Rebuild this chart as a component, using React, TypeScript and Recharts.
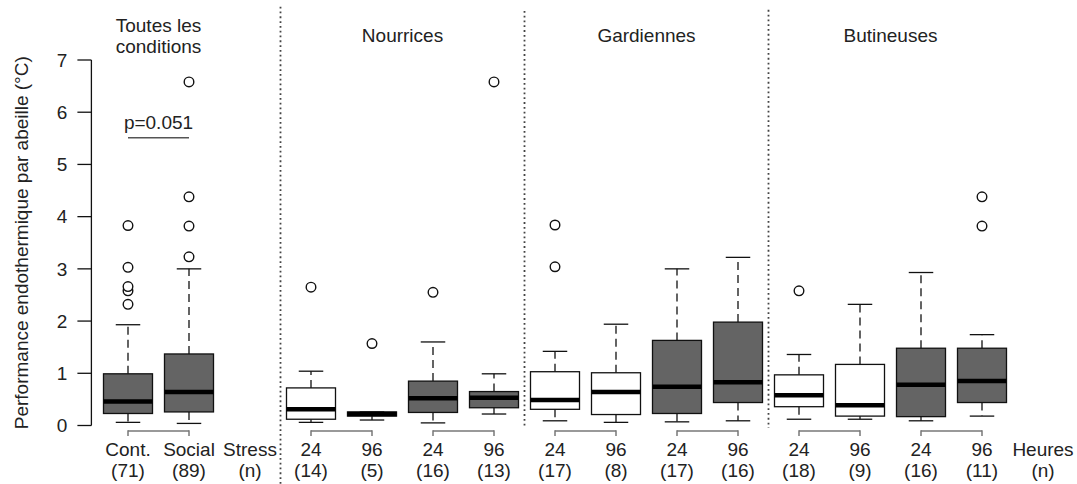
import React from "react";
import { ComposedChart, Bar, Scatter, XAxis, YAxis, ReferenceLine } from "recharts";

// one box per slot; slot 3 is the gap holding the "Stress (n)" label
const boxSlots = [1, 2, 4, 5, 6, 7, 8, 9, 10, 11, 12, 13, 14, 15];
const boxFilled = [true, true, false, false, true, true, false, false, true, true, false, false, true, true];
const whiskerLow = [0.06, 0.04, 0.06, 0.105, 0.05, 0.22, 0.09, 0.06, 0.07, 0.09, 0.12, 0.12, 0.09, 0.18];
const quartile1 = [0.23, 0.26, 0.12, 0.18, 0.25, 0.34, 0.31, 0.21, 0.23, 0.44, 0.36, 0.18, 0.17, 0.44];
const medians = [0.46, 0.64, 0.31, 0.22, 0.52, 0.53, 0.49, 0.64, 0.74, 0.83, 0.58, 0.39, 0.78, 0.85];
const quartile3 = [0.99, 1.37, 0.72, 0.26, 0.85, 0.65, 1.03, 1.01, 1.63, 1.98, 0.97, 1.17, 1.48, 1.48];
const whiskerHigh = [1.93, 3.0, 1.04, 0.26, 1.6, 0.99, 1.42, 1.94, 3.0, 3.22, 1.36, 2.32, 2.93, 1.74];

const outlierSlots = [1, 1, 1, 1, 1, 2, 2, 2, 2, 4, 5, 6, 7, 8, 8, 12, 15, 15];
const outlierValues = [2.32, 2.58, 2.66, 3.03, 3.83, 3.23, 3.82, 4.38, 6.58, 2.65, 1.57, 2.55, 6.58, 3.04, 3.84, 2.58, 3.82, 4.38];

const tickSlots = [1, 2, 3, 4, 5, 6, 7, 8, 9, 10, 11, 12, 13, 14, 15, 16];
const tickLabels = ["Cont.", "Social", "Stress", "24", "96", "24", "96", "24", "96", "24", "96", "24", "96", "24", "96", "Heures"];
const tickCounts = ["(71)", "(89)", "(n)", "(14)", "(5)", "(16)", "(13)", "(17)", "(8)", "(17)", "(16)", "(18)", "(9)", "(16)", "(11)", "(n)"];

const panelCenters = [1.5, 5.5, 9.5, 13.5];
const panelTitles = [["Toutes les", "conditions"], ["Nourrices"], ["Gardiennes"], ["Butineuses"]];

const separators = [3.5, 7.5, 11.5];
const separatorTop = [8.02, 7.94, 7.96];
const separatorBottom = [-1.12, -0.05, -0.05];
const pairs = [[1, 2], [4, 5], [6, 7], [8, 9], [10, 11], [12, 13], [14, 15]];

const yTicks = [0, 1, 2, 3, 4, 5, 6, 7];

const boxData = boxSlots.map((slot, i) => ({
  slot,
  filled: boxFilled[i],
  lo: whiskerLow[i],
  q1: quartile1[i],
  med: medians[i],
  q3: quartile3[i],
  hi: whiskerHigh[i],
}));

const outlierData = outlierSlots.map((slot, i) => ({ slot, value: outlierValues[i] }));

const FONT = "'Liberation Sans', Arial, Helvetica, sans-serif";
const TEXT = "#222";

const BoxShape = (props: any) => {
  const { x, y, width, height, payload } = props;
  const { lo, q1, med, q3, hi, filled } = payload;
  // the bar spans lo..hi, so map the other stats inside it
  const py = (v: number) => y + (height * (hi - v)) / (hi - lo);
  const cx = x + width / 2;
  const cap = width / 4;
  return (
    <g>
      <line x1={cx} x2={cx} y1={py(q3)} y2={py(hi)} stroke="#111" strokeWidth={1.3} strokeDasharray="8 5" />
      <line x1={cx} x2={cx} y1={py(q1)} y2={py(lo)} stroke="#111" strokeWidth={1.3} strokeDasharray="8 5" />
      <line x1={cx - cap} x2={cx + cap} y1={py(hi)} y2={py(hi)} stroke="#111" strokeWidth={1.3} />
      <line x1={cx - cap} x2={cx + cap} y1={py(lo)} y2={py(lo)} stroke="#111" strokeWidth={1.3} />
      <rect
        x={x}
        y={py(q3)}
        width={width}
        height={py(q1) - py(q3)}
        fill={filled ? "#646464" : "#ffffff"}
        stroke="#111"
        strokeWidth={1.3}
      />
      <line x1={x} x2={x + width} y1={py(med)} y2={py(med)} stroke="#000" strokeWidth={4.5} />
    </g>
  );
};

const OutlierShape = (props: any) => (
  <circle cx={props.cx} cy={props.cy} r={4.8} fill="#fff" stroke="#111" strokeWidth={1.4} />
);

const BottomTick = (props: any) => {
  const { x, y, payload } = props;
  const i = tickSlots.indexOf(payload.value);
  return (
    <g fontFamily={FONT} fontSize={19} fill={TEXT}>
      <text x={x} y={y + 30.5} textAnchor="middle">{tickLabels[i]}</text>
      <text x={x} y={y + 51.5} textAnchor="middle">{tickCounts[i]}</text>
    </g>
  );
};

const TopTick = (props: any) => {
  const { x, y, payload } = props;
  const lines = panelTitles[panelCenters.indexOf(payload.value)] || [];
  const last = lines.length > 1 ? y - 7 : y - 18;
  return (
    <g fontFamily={FONT} fontSize={19} fill={TEXT}>
      {lines.map((t, k) => (
        <text key={k} x={x} y={last - (lines.length - 1 - k) * 21} textAnchor="middle">{t}</text>
      ))}
    </g>
  );
};

const YTitle = (props: any) => {
  const vb = props.viewBox || { x: 0, y: 60, height: 365.5 };
  const cx = vb.x + 21;
  const cy = vb.y + vb.height / 2;
  return (
    <text
      x={cx}
      y={cy}
      transform={`rotate(-90, ${cx}, ${cy})`}
      textAnchor="middle"
      dominantBaseline="central"
      fontFamily={FONT}
      fontSize={19}
      fill={TEXT}
    >
      Performance endothermique par abeille (°C)
    </text>
  );
};

export default function App() {
  return (
    <div style={{ position: "absolute", left: 0, top: 0, background: "#fff" }}>
      <ComposedChart
        width={1077}
        height={484}
        data={boxData}
        margin={{ top: 0, right: 9.6, bottom: 0, left: 0 }}
        style={{ fontFamily: FONT }}
      >
        <XAxis
          xAxisId="main"
          dataKey="slot"
          type="number"
          domain={[0.4, 16.4]}
          ticks={tickSlots}
          interval={0}
          height={58.5}
          axisLine={false}
          tickLine={false}
          tickSize={0}
          tickMargin={0}
          tick={<BottomTick />}
        />
        <XAxis
          xAxisId="top"
          orientation="top"
          dataKey="slot"
          type="number"
          domain={[0.4, 16.4]}
          ticks={panelCenters}
          interval={0}
          height={60}
          axisLine={false}
          tickLine={false}
          tickSize={0}
          tickMargin={0}
          tick={<TopTick />}
        />
        <YAxis
          type="number"
          domain={[0, 7]}
          ticks={yTicks}
          interval={0}
          width={91.4}
          tickSize={14}
          tickMargin={10}
          axisLine={{ stroke: "#111", strokeWidth: 1.3 }}
          tickLine={{ stroke: "#111", strokeWidth: 1.3 }}
          tick={{ fill: TEXT, fontSize: 19, fontFamily: FONT }}
          label={{ content: (p: any) => <YTitle {...p} /> }}
        />

        {separators.map((s, i) => (
          <ReferenceLine
            key={`sep-${i}`}
            xAxisId="main"
            ifOverflow="visible"
            segment={[{ x: s, y: separatorTop[i] }, { x: s, y: separatorBottom[i] }]}
            stroke="#444"
            strokeWidth={1.8}
            strokeDasharray="1.8 3"
          />
        ))}

        {pairs.map(([a, b], i) => (
          <ReferenceLine
            key={`pair-${i}`}
            xAxisId="main"
            ifOverflow="visible"
            segment={[{ x: a, y: -0.105 }, { x: b, y: -0.105 }]}
            stroke="#777"
            strokeWidth={1.5}
          />
        ))}
        {pairs.flat().map((s, i) => (
          <ReferenceLine
            key={`pairtick-${i}`}
            xAxisId="main"
            ifOverflow="visible"
            segment={[{ x: s, y: -0.09 }, { x: s, y: -0.2 }]}
            stroke="#777"
            strokeWidth={1.5}
          />
        ))}

        <ReferenceLine
          xAxisId="main"
          ifOverflow="visible"
          segment={[{ x: 1, y: 5.51 }, { x: 2, y: 5.51 }]}
          stroke="#555"
          strokeWidth={1.5}
          label={{ value: "p=0.051", position: "top", offset: 9, fill: TEXT, fontSize: 19, fontFamily: FONT }}
        />

        <Bar
          xAxisId="main"
          dataKey={(d: any) => [d.lo, d.hi]}
          barSize={49}
          shape={BoxShape}
          isAnimationActive={false}
        />
        <Scatter
          xAxisId="main"
          data={outlierData}
          dataKey="value"
          shape={OutlierShape}
          isAnimationActive={false}
        />
      </ComposedChart>
    </div>
  );
}
